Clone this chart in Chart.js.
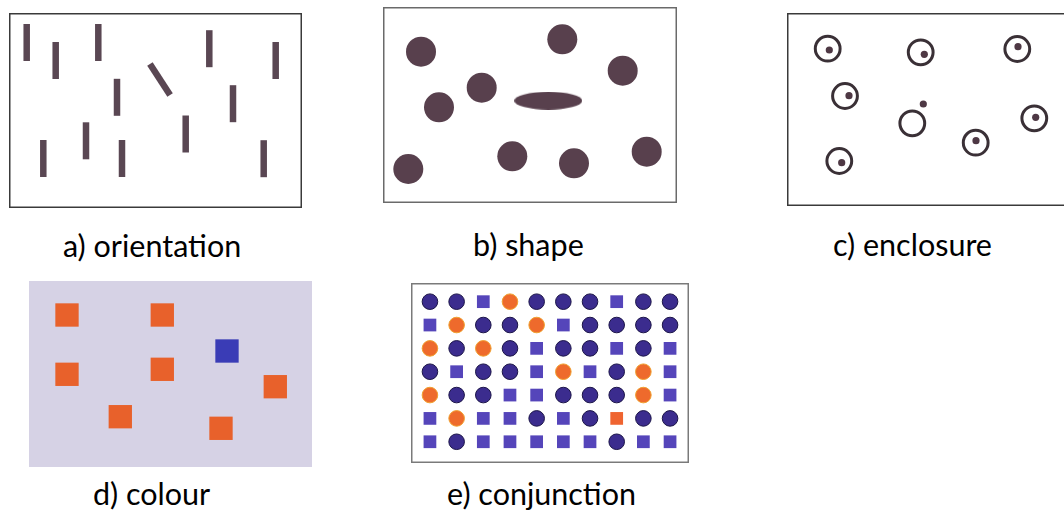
<!DOCTYPE html>
<html>
<head>
<meta charset="utf-8">
<script src="https://cdn.jsdelivr.net/npm/chart.js@4"></script>
<style>
  html, body { margin: 0; padding: 0; background: #fff; overflow: hidden; }
  body { width: 1064px; height: 510px; position: relative; }
  canvas { position: absolute; display: block; }
  .label { position: absolute; font-family: Lato, 'Open Sans', sans-serif; font-size: 30.5px; line-height: 34px; color: #000; white-space: nowrap; }
</style>
</head>
<body>
<canvas id="orient" width="293" height="195" style="left:9px;top:13px"></canvas>
<canvas id="shape" width="294" height="196" style="left:383px;top:7px"></canvas>
<canvas id="enclosure" width="300" height="193" style="left:787px;top:13px"></canvas>
<canvas id="colour" width="283" height="186" style="left:29px;top:281px"></canvas>
<canvas id="conj" width="278" height="180" style="left:411px;top:283px"></canvas>

<div class="label" style="left:63px;top:228px">a) orientation</div>
<div class="label" style="left:473px;top:227px">b) shape</div>
<div class="label" style="left:833px;top:227px">c) enclosure</div>
<div class="label" style="left:93px;top:476px">d) colour</div>
<div class="label" style="left:447px;top:476px">e) conjunction</div>

<script>
// a) orientation: bar centres and angle (deg) of each bar
const orientX = [17.7, 46.7, 89.3, 108, 151, 200.3, 266.7, 224, 176.7, 77, 34.3, 113, 254.7];
const orientY = [29.5, 47.5, 29.5, 84.3, 66.5, 35.7, 47.5, 90.7, 121, 127.8, 145.5, 145.5, 145.7];
const orientAngle = [90, 90, 90, 90, 57, 90, 90, 90, 90, 90, 90, 90, 90];

// b) shape: round blobs + the one odd ellipse
const shapeX = [38, 179.3, 239.7, 98.7, 56, 25.3, 129.3, 191, 263.7];
const shapeY = [44.7, 32.3, 63.7, 80.7, 100.3, 162, 149.3, 156.3, 144.7];
const shapeOddX = [165.3];
const shapeOddY = [93.7];

// c) enclosure: rings and dots (one dot sits outside its ring)
const ringX = [40.7, 133.7, 230.3, 58, 125.3, 247.3, 188.7, 52.3];
const ringY = [35.7, 39.3, 36, 83, 110.3, 105.3, 129.7, 148];
const dotX = [42.3, 137.3, 231, 62, 136.3, 248.7, 189, 54.7];
const dotY = [37, 41.3, 33.7, 82.7, 91, 104.3, 127.7, 149.7];

// d) colour: squares, o = orange, b = blue
const colourX = [38, 133.3, 198, 38, 133.3, 246.3, 91.3, 192];
const colourY = [34, 34, 70, 93.3, 88.3, 105.7, 135.7, 147.3];
const colourKind = ['o', 'o', 'b', 'o', 'o', 'o', 'o', 'o'];

// e) conjunction: C blue circle, S blue square, O orange circle, Q orange square
const conjRows = [
  'CCSOCCCSCC',
  'SOCCOSCCCC',
  'OCOCSCCSCS',
  'CSCCSOSCOS',
  'OCCSSCCCOS',
  'SOSSCSCQCC',
  'SCSSSSSCSS'
];

const pts = (xs, ys) => xs.map((x, i) => ({ x, y: ys[i] }));

// frame / background around the plot area
const framePlugin = {
  id: 'frame',
  beforeDraw(chart, args, opts) {
    if (!opts.fill) return;
    const { ctx, chartArea: a } = chart;
    ctx.save();
    ctx.fillStyle = opts.fill;
    ctx.fillRect(a.left, a.top, a.right - a.left, a.bottom - a.top);
    ctx.restore();
  },
  afterDraw(chart, args, opts) {
    if (!opts.color) return;
    const { ctx, chartArea: a } = chart;
    const h = opts.width / 2;
    ctx.save();
    ctx.strokeStyle = opts.color;
    ctx.lineWidth = opts.width;
    ctx.strokeRect(a.left + h, a.top + h, a.right - a.left - opts.width, a.bottom - a.top - opts.width);
    ctx.restore();
  }
};
Chart.register(framePlugin);

function baseOptions(xMin, xMax, yMin, yMax, frame) {
  return {
    responsive: false,
    animation: false,
    events: [],
    layout: { padding: 0, autoPadding: false },
    plugins: { legend: { display: false }, tooltip: { enabled: false }, frame },
    scales: {
      x: { type: 'linear', display: false, min: xMin, max: xMax },
      y: { type: 'linear', display: false, min: yMin, max: yMax, reverse: true }
    }
  };
}

function ellipseMark(w, h, color) {
  const c = document.createElement('canvas');
  c.width = w; c.height = h;
  const g = c.getContext('2d');
  g.fillStyle = color;
  g.beginPath();
  g.ellipse(w / 2, h / 2, w / 2, h / 2, 0, 0, Math.PI * 2);
  g.fill();
  return c;
}

// a) orientation
new Chart(document.getElementById('orient'), {
  type: 'scatter',
  data: {
    datasets: [{
      data: pts(orientX, orientY),
      pointStyle: 'line',
      pointRadius: 18.5,
      pointRotation: orientAngle,
      borderColor: '#5a4753',
      borderWidth: 6.5,
      clip: false
    }]
  },
  options: baseOptions(0, 293, 0, 195, { color: '#3a3a3a', width: 1.5 })
});

// b) shape
const bColor = '#58404d';
new Chart(document.getElementById('shape'), {
  type: 'scatter',
  data: {
    datasets: [{
      data: pts(shapeX, shapeY),
      pointStyle: 'circle',
      pointRadius: 15,
      backgroundColor: bColor,
      borderColor: bColor,
      borderWidth: 0,
      clip: false
    }, {
      data: pts(shapeOddX, shapeOddY),
      pointStyle: ellipseMark(68, 18, bColor),
      clip: false
    }]
  },
  options: baseOptions(0, 294, 0, 196, { color: '#6a6a6a', width: 1.5 })
});

// c) enclosure
new Chart(document.getElementById('enclosure'), {
  type: 'scatter',
  data: {
    datasets: [{
      data: pts(ringX, ringY),
      pointStyle: 'circle',
      pointRadius: 12.4,
      backgroundColor: 'rgba(0,0,0,0)',
      borderColor: '#3a3036',
      borderWidth: 3,
      clip: false
    }, {
      data: pts(dotX, dotY),
      pointStyle: 'circle',
      pointRadius: 3.6,
      backgroundColor: '#4e3844',
      borderWidth: 0,
      clip: false
    }]
  },
  options: baseOptions(0, 300, 0, 193, { color: '#3a3a3a', width: 1.5 })
});

// d) colour
new Chart(document.getElementById('colour'), {
  type: 'scatter',
  data: {
    datasets: [{
      data: pts(colourX, colourY),
      pointStyle: 'rect',
      pointRadius: 16.5,
      backgroundColor: colourKind.map(k => k === 'b' ? '#3a3cb6' : '#e8612b'),
      borderWidth: 0,
      clip: false
    }]
  },
  options: baseOptions(0, 283, 0, 186, { fill: '#d6d2e5' })
});

// e) conjunction
const conjSets = {
  C: { style: 'circle', r: 7.8, fill: '#3b2c8e', edge: '#1c1548', bw: 1 },
  S: { style: 'rect', r: 9, fill: '#5545ba', edge: '#5545ba', bw: 0 },
  O: { style: 'circle', r: 7.8, fill: '#ee6a2c', edge: '#f0a030', bw: 1 },
  Q: { style: 'rect', r: 9, fill: '#ef6430', edge: '#ef6430', bw: 0 }
};
const conjData = { C: [], S: [], O: [], Q: [] };
conjRows.forEach((row, r) => {
  row.split('').forEach((k, c) => conjData[k].push({ x: c + 1, y: r + 1 }));
});

new Chart(document.getElementById('conj'), {
  type: 'scatter',
  data: {
    datasets: Object.keys(conjSets).map(k => ({
      data: conjData[k],
      pointStyle: conjSets[k].style,
      pointRadius: conjSets[k].r,
      backgroundColor: conjSets[k].fill,
      borderColor: conjSets[k].edge,
      borderWidth: conjSets[k].bw,
      clip: false
    }))
  },
  options: baseOptions(0.29, 10.71, 0.2, 7.91, { color: '#7a7a7a', width: 1.5 })
});
</script>
</body>
</html>
